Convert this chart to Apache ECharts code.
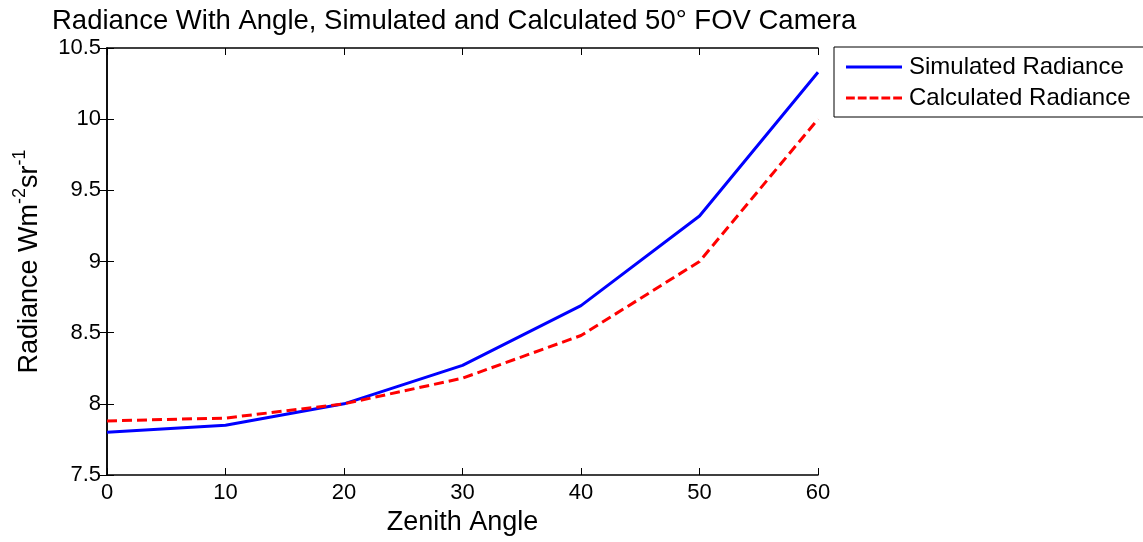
<!DOCTYPE html>
<html><head><meta charset="utf-8">
<script src="https://cdn.jsdelivr.net/npm/echarts@6/dist/echarts.min.js"></script>
<style>html,body{margin:0;padding:0;background:#fff}#c{width:1143px;height:542px}</style>
</head><body><div id="c"></div>
<script>
var angles = [0, 10, 20, 30, 40, 50, 60];
var simulated = [7.80, 7.85, 8.00, 8.27, 8.69, 9.32, 10.33];
var calculated = [7.88, 7.90, 8.00, 8.18, 8.48, 9.00, 10.00];
var seriesNames = ['Simulated Radiance', 'Calculated Radiance'];
var titleText = 'Radiance With Angle, Simulated and Calculated 50° FOV Camera';

var font = 'Arial, "Liberation Sans", sans-serif';
var chart = echarts.init(document.getElementById('c'));
function pairs(v){ return angles.map(function(a,i){return [a, v[i]];}); }
var axisLine = {show:true, lineStyle:{color:'#000', width:1.5}};
var tick = {inside:true, length:7, lineStyle:{color:'#000', width:1}};
var solidIcon = 'path://M0,0H56V3H0Z';
var dashIcon = 'path://M0,0H8.8V3H0Z M11.8,0H20.6V3H11.8Z M23.6,0H32.4V3H23.6Z M35.4,0H44.2V3H35.4Z M47.2,0H56V3H47.2Z';
chart.setOption({
  animation:false,
  title:{text:titleText, left:47, top:2, textStyle:{fontFamily:font, fontSize:27.5, fontWeight:'normal', color:'#000'}},
  grid:{left:107, right:325, top:48, bottom:67},
  legend:{
    orient:'vertical', left:834, top:47,
    data:[{name:seriesNames[0], icon:solidIcon},{name:seriesNames[1], icon:dashIcon}],
    itemWidth:56, itemHeight:3, itemGap:5,
    padding:[7,20,6,12],
    borderColor:'#000', borderWidth:1, borderRadius:0,
    textStyle:{fontFamily:font, fontSize:24, color:'#000', lineHeight:26, padding:[0,0,0,2]}
  },
  xAxis:[{
    type:'value', min:0, max:60, interval:10,
    name:'Zenith Angle', nameLocation:'middle', nameGap:32,
    nameTextStyle:{fontFamily:font, fontSize:27, color:'#000'},
    axisLine:axisLine, axisTick:tick,
    axisLabel:{fontFamily:font, fontSize:22, color:'#000', margin:7},
    splitLine:{show:false}
  },{
    type:'value', min:0, max:60, interval:10, position:'top',
    axisLine:axisLine, axisTick:tick,
    axisLabel:{show:false}, splitLine:{show:false}
  }],
  yAxis:[{
    type:'value', min:7.5, max:10.5, interval:0.5,
    name:'{a|Radiance Wm}{s|-2}{a|sr}{s|-1}', nameLocation:'middle', nameGap:64, nameRotate:90,
    nameTextStyle:{rich:{
      a:{fontFamily:font, fontSize:27, color:'#000', verticalAlign:'bottom', lineHeight:32},
      s:{fontFamily:font, fontSize:18, color:'#000', verticalAlign:'top', padding:[0,0,12,0], lineHeight:32}
    }},
    axisLine:axisLine, axisTick:tick,
    axisLabel:{fontFamily:font, fontSize:22, color:'#000', margin:6, formatter:function(v){return String(+v.toFixed(1));}},
    splitLine:{show:false}
  },{
    type:'value', min:7.5, max:10.5, interval:0.5, position:'right',
    axisLine:axisLine, axisTick:tick,
    axisLabel:{show:false}, splitLine:{show:false}
  }],
  series:[{
    name:seriesNames[0], type:'line', data:pairs(simulated),
    showSymbol:false, symbol:'none',
    lineStyle:{color:'#0000ff', width:3, type:'solid'}, itemStyle:{color:'#0000ff'}
  },{
    name:seriesNames[1], type:'line', data:pairs(calculated),
    showSymbol:false, symbol:'none',
    lineStyle:{color:'#ff0000', width:3, type:[10,5]}, itemStyle:{color:'#ff0000'}
  }]
});
</script></body></html>
